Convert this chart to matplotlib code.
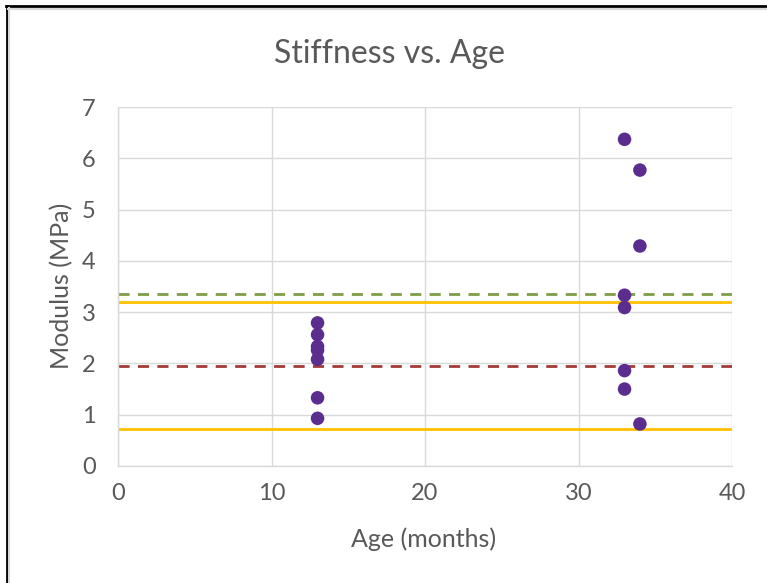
import matplotlib
matplotlib.use("Agg")
import matplotlib.pyplot as plt
from matplotlib.lines import Line2D

plt.rcParams['font.family'] = ['Lato', 'DejaVu Sans']

# Measured samples
age_13 = [13, 13, 13, 13, 13, 13, 13]
mod_13 = [2.79, 2.56, 2.33, 2.26, 2.08, 1.33, 0.93]
age_33 = [33, 34, 34, 33, 33, 33, 33, 34]
mod_33 = [6.37, 5.77, 4.29, 3.33, 3.09, 1.86, 1.50, 0.82]

# Reference levels drawn across the full age range
line_x = [0, 40]
upper_mean = 3.35
upper_band = 3.20
lower_mean = 1.95
lower_band = 0.73

x_ticks = [0, 10, 20, 30, 40]
y_ticks = [0, 1, 2, 3, 4, 5, 6, 7]

text_color = '#595959'
grid_color = '#d9d9d9'
purple = '#5b2d8f'

fig = plt.figure(figsize=(7.67, 5.83), dpi=100)
ax = fig.add_axes([118 / 767, 1 - 466 / 583, (732 - 118) / 767, (466 - 107) / 583])

ax.plot(line_x, [upper_band, upper_band], color='#ffc000', lw=2, solid_capstyle='butt', zorder=2)
ax.plot(line_x, [lower_band, lower_band], color='#ffc000', lw=2, solid_capstyle='butt', zorder=2)
ax.plot(line_x, [upper_mean, upper_mean], color='#7f9d47', lw=2, ls=(0, (4, 3)), zorder=2)
ax.plot(line_x, [lower_mean, lower_mean], color='#a33b37', lw=2, ls=(0, (4, 3)), zorder=2)

ax.scatter(age_13, mod_13, s=95, color=purple, edgecolors='none', zorder=3)
ax.scatter(age_33, mod_33, s=95, color=purple, edgecolors='none', zorder=3)

ax.set_xlim(0, 40)
ax.set_ylim(0, 7)
ax.set_xticks(x_ticks)
ax.set_yticks(y_ticks)
ax.grid(True, color=grid_color, lw=1)
ax.set_axisbelow(True)
for side in ['top', 'right']:
    ax.spines[side].set_visible(False)
for side in ['left', 'bottom']:
    ax.spines[side].set_color(grid_color)
    ax.spines[side].set_linewidth(1)
ax.tick_params(axis='both', length=0, labelsize=17, labelcolor=text_color)
ax.tick_params(axis='x', pad=12)
ax.tick_params(axis='y', pad=16)

fig.text(390 / 767, 1 - 54 / 583, 'Stiffness vs. Age', ha='center', va='center',
         fontsize=23, color=text_color)
fig.text(424 / 767, 1 - 539 / 583, 'Age (months)', ha='center', va='center',
         fontsize=18, color=text_color)
fig.text(62 / 767, 1 - 286 / 583, 'Modulus (MPa)', ha='center', va='center',
         fontsize=18, color=text_color, rotation=90)

# Frame edges on the left and top of the chart area
fig.add_artist(Line2D([6.5 / 767, 6.5 / 767], [0, 1 - 6 / 583], transform=fig.transFigure,
                      color='black', lw=2))
fig.add_artist(Line2D([6 / 767, 1], [1 - 6 / 583, 1 - 6 / 583], transform=fig.transFigure,
                      color='black', lw=2))
fig.add_artist(Line2D([9 / 767, 9 / 767], [0, 1 - 8 / 583], transform=fig.transFigure,
                      color='#d9d9d9', lw=1.5))
fig.add_artist(Line2D([8 / 767, 1], [1 - 8.5 / 583, 1 - 8.5 / 583], transform=fig.transFigure,
                      color='#d9d9d9', lw=1.5))

fig.savefig('out.png', dpi=100)
